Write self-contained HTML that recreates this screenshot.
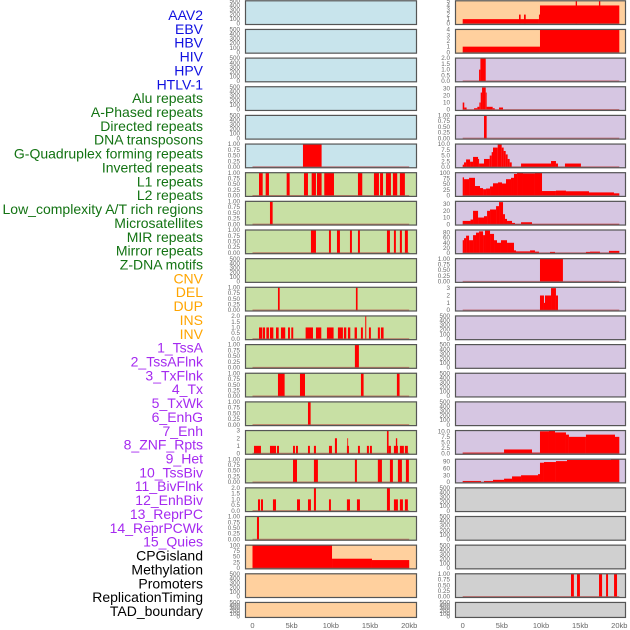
<!DOCTYPE html>
<html><head><meta charset="utf-8"><style>
body{margin:0;background:#fff;width:630px;height:630px;overflow:hidden}
svg{display:block;font-family:"Liberation Sans",sans-serif}
</style></head><body>
<svg id="c" width="630" height="630"></svg>
<script>
// ---- track labels ----
const labelNames=["AAV2","EBV","HBV","HIV","HPV","HTLV-1","Alu repeats","A-Phased repeats","Directed repeats","DNA transposons","G-Quadruplex forming repeats","Inverted repeats","L1 repeats","L2 repeats","Low_complexity A/T rich regions","Microsatellites","MIR repeats","Mirror repeats","Z-DNA motifs","CNV","DEL","DUP","INS","INV","1_TssA","2_TssAFlnk","3_TxFlnk","4_Tx","5_TxWk","6_EnhG","7_Enh","8_ZNF_Rpts","9_Het","10_TssBiv","11_BivFlnk","12_EnhBiv","13_ReprPC","14_ReprPCWk","15_Quies","CPGisland","Methylation","Promoters","ReplicationTiming","TAD_boundary"];
const labelGroups=[6,13,5,15,5];
const groupColors=["#1010e0","#137313","#ffa500","#a52af0","#000"];
const xTicks=[0,5,10,15,20];
const xTickLabels=["0","5kb","10kb","15kb","20kb"];
// ---- left column series [startKb,endKb,value] ----
const L5=[[6.44,8.82,1]];
const L6=[[0.83,1.3,1],[1.68,2.1,1],[4.36,4.74,1],[6.57,7.08,1],[7.55,8.1,1],[8.23,8.82,1],[9.16,10.4,1],[13.46,14.01,1],[15.5,16.14,1],[16.28,16.66,1],[17.03,17.67,1],[17.92,18.47,1],[18.81,19.45,1]];
const L7=[[2.23,2.57,1]];
const L8=[[7.46,8.1,1],[9.76,10.01,1],[10.78,11.16,1],[12.44,12.69,1],[13.46,13.71,1],[17.16,17.54,1],[18.05,18.3,1],[18.81,19.07,1],[19.45,19.83,1]];
const L10=[[3.25,3.47,1],[13.2,13.41,1]];
const L11=[[0.83,1.26,1],[1.34,1.6,1],[1.77,2.1,1],[2.23,2.66,1],[3.0,3.34,1],[3.63,4.18,1],[4.53,4.78,1],[4.95,5.2,1],[6.78,7.72,1],[8.1,8.78,1],[9.5,10.35,1],[10.9,11.54,1],[11.67,11.97,1],[12.18,12.48,1],[13.03,13.33,1],[13.84,14.09,1],[14.39,14.52,2],[14.86,15.11,1],[16.0,16.26,1],[16.39,16.73,1]];
const L12=[[13.07,13.58,1]];
const L13=[[3.25,4.1,1],[6.06,6.7,1],[13.84,14.18,1],[18.43,18.77,1]];
const L14=[[7.08,7.42,1]];
const L15=[[0.19,1.08,1],[2.23,3.0,1],[3.13,3.38,1],[5.17,5.42,1],[5.55,5.8,1],[7.08,7.33,1],[7.84,8.1,1],[9.76,10.14,1],[10.52,10.78,2],[12.05,12.31,1],[12.1,12.2,2],[13.46,13.71,1],[14.6,14.86,1],[14.99,15.24,1],[17.16,17.37,3],[17.37,17.67,1],[18.05,18.56,1],[18.3,18.47,2],[18.81,19.32,1],[19.45,19.83,1]];
const L16=[[5.17,5.68,1],[7.84,8.35,1],[13.07,13.33,1],[16.0,16.52,1],[17.54,17.92,1],[18.56,19.07,1],[19.58,19.96,1]];
const L17=[[0.7,0.96,1],[1.08,1.34,1],[2.61,3.0,1],[5.68,6.06,1],[7.08,7.46,1],[7.84,8.1,2],[9.76,10.01,1],[12.05,12.44,1],[13.33,13.71,1],[17.16,17.54,2],[18.05,18.56,1],[18.81,19.2,1],[19.45,19.83,1]];
const L18=[[0.57,0.83,1]];
const L19=[[0,10.15,100],[10.15,15.25,41],[15.25,20,35]];
// ---- right column series ----
const R0=[[0,9.74,1],[7.19,7.4,2],[7.83,8.05,2],[9.74,9.87,2],[9.87,20,4],[14.43,14.6,5],[17.4,17.57,5]];
const R1=[[0,9.87,1],[9.87,20,4]];
const R2=[[2.09,2.26,1],[2.26,2.94,2]];
const R3=[[0,0.2,10],[0.2,0.5,3],[1.45,1.87,2],[1.87,2.13,4],[2.13,2.3,10],[2.3,2.47,24],[2.47,2.94,31],[2.94,3.06,24],[3.06,3.83,4],[3.83,4.09,2],[4.64,5.15,3]];
const R4=[[2.72,3.06,1]];
const R5=[[0,0.17,1],[0.17,0.43,2],[0.43,0.94,3.3],[0.94,1.32,2.3],[1.32,1.96,4.4],[1.96,2.09,3.5],[2.09,2.72,1.5],[2.72,3.45,3.5],[3.45,3.7,5],[3.7,3.87,6.5],[3.87,4.47,8.5],[4.47,4.98,10],[4.98,5.23,8.5],[5.23,5.49,7],[5.49,5.74,5.5],[5.74,6.0,3.5],[6.0,6.26,2],[7.45,11.28,1.5],[11.28,11.91,2.6],[11.91,12.17,1.5],[13.06,15.1,1.5]];
const R6=[[0,0.17,80],[0.17,0.81,72],[0.81,1.57,78],[1.57,2.21,42],[2.21,2.6,33],[2.6,2.98,28],[2.98,3.49,31],[3.49,3.87,40],[3.87,4.51,54],[4.51,5.02,58],[5.02,5.53,53],[5.53,6.17,72],[6.17,6.55,78],[6.55,6.94,95],[6.94,7.7,100],[7.7,9.23,97],[9.23,10.13,100],[10.13,11.91,20],[11.91,13.19,22],[13.19,16.13,19],[16.13,19.32,14],[19.32,20,10]];
const R7=[[0,1.0,5],[1.0,1.32,7],[1.32,1.96,20],[1.96,2.72,10],[2.72,3.11,12],[3.11,3.49,20],[3.49,4.26,22],[4.26,4.64,27],[4.64,5.15,33],[5.15,5.4,15],[5.4,5.66,8],[5.66,6.3,5],[6.3,6.68,2],[6.68,7.45,0.5],[7.45,8.85,3],[8.85,20,0.5]];
const R8=[[0,0.17,50],[0.17,0.43,58],[0.43,0.81,68],[0.81,1.32,50],[1.32,1.7,70],[1.7,2.09,80],[2.09,2.6,85],[2.6,2.85,70],[2.85,3.49,88],[3.49,4.0,75],[4.0,4.38,50],[4.38,4.89,40],[4.89,5.66,50],[5.66,6.55,40],[6.55,6.81,10],[6.81,8.6,6],[8.6,9.23,10],[9.23,9.74,5],[11.15,11.79,4],[15.74,16.26,4],[16.26,17.53,5],[18.68,20,8]];
const R9=[[9.87,12.8,1]];
const R10=[[9.87,10.38,2],[10.38,10.51,1],[10.51,11.28,2],[11.28,11.91,3],[11.91,12.17,2]];
const R15=[[0,5.28,0.4],[5.28,8.85,1.8],[8.85,9.87,0.4],[9.87,11.02,10],[11.02,11.79,10.2],[11.79,13.19,9.5],[13.19,13.57,8.5],[13.57,15.74,7.5],[15.74,19.45,8.5],[19.45,20,7.5]];
const R16=[[0,2.34,5],[2.72,3.87,5],[3.87,5.28,10],[5.28,6.3,15],[6.3,7.45,25],[7.45,9.62,30],[9.62,9.87,35],[9.87,10.38,85],[10.38,11.91,88],[11.91,13.32,92],[13.32,18.94,97],[18.94,20,100]];
const R20=[[13.83,14.2,1],[14.6,14.97,1],[17.41,17.8,1],[18.31,18.56,1],[19.33,19.71,1]];
// ---- scale definitions [ymax, tick values, tick labels] ----
const T_empty=[500,[0,100,200,300,400,500],["0","100","200","300","400","500"]];
const T_one=[1,[0,0.25,0.5,0.75,1],["0.00","0.25","0.50","0.75","1.00"]];
const T_two=[2,[0,0.5,1,1.5,2],["0.0","0.5","1.0","1.5","2.0"]];
const BLUE="#c8e4ec",GREEN="#c8e0a4",ORANGE="#ffd09e",PURPLE="#d6c6e2",GREY="#d0d0d0";
const leftPanels=[
[BLUE,T_empty,null],[BLUE,T_empty,null],[BLUE,T_empty,null],[BLUE,T_empty,null],[BLUE,T_empty,null],[BLUE,T_one,L5],
[GREEN,T_one,L6],[GREEN,T_one,L7],[GREEN,T_one,L8],[GREEN,T_empty,null],[GREEN,T_one,L10],[GREEN,T_two,L11],
[GREEN,T_one,L12],[GREEN,T_one,L13],[GREEN,T_one,L14],[GREEN,[3,[0,1,2,3],["0","1","2","3"]],L15],[GREEN,T_one,L16],[GREEN,T_two,L17],[GREEN,T_one,L18],
[ORANGE,[100,[0,25,50,75,100],["0","25","50","75","100"]],L19],[ORANGE,T_empty,null],[ORANGE,T_empty,null]];
const rightPanels=[
[ORANGE,[5,[0,1,2,3,4,5],["0","1","2","3","4","5"]],R0],[ORANGE,[4,[0,1,2,3,4],["0","1","2","3","4"]],R1],
[PURPLE,T_two,R2],[PURPLE,[32,[0,10,20,30],["0","10","20","30"]],R3],[PURPLE,T_one,R4],
[PURPLE,[10,[0,2.5,5,7.5,10],["0.0","2.5","5.0","7.5","10.0"]],R5],[PURPLE,[100,[0,25,50,75,100],["0","25","50","75","100"]],R6],
[PURPLE,[34,[0,10,20,30],["0","10","20","30"]],R7],[PURPLE,[90,[0,20,40,60,80],["0","20","40","60","80"]],R8],
[PURPLE,T_one,R9],[PURPLE,[3.1,[0,1,2,3],["0","1","2","3"]],R10],
[PURPLE,T_empty,null],[PURPLE,T_empty,null],[PURPLE,T_empty,null],[PURPLE,T_empty,null],
[PURPLE,[10.3,[0,2.5,5,7.5,10],["0.0","2.5","5.0","7.5","10.0"]],R15],[PURPLE,[100,[0,30,60,90],["0","30","60","90"]],R16],
[GREY,T_empty,null],[GREY,T_empty,null],[GREY,T_empty,null],[GREY,T_one,R20],[GREY,T_empty,null]];

const svg=document.getElementById('c');
const NS="http://www.w3.org/2000/svg";
function mk(tag,attrs,parent){const e=document.createElementNS(NS,tag);for(const k in attrs)e.setAttribute(k,attrs[k]);(parent||svg).appendChild(e);return e;}
// labels
let li=0;
labelGroups.forEach((n,g)=>{for(let k=0;k<n;k++){const t=mk('text',{x:203,y:15+li*13.86,'text-anchor':'end','dominant-baseline':'central','font-size':14,fill:groupColors[g]});


t.textContent=labelNames[li];li++;}});
const cols=[{px0:245,px1:417,x0:252.5,x1:409.2,tx:240,panels:leftPanels},{px0:455,px1:626,x0:462.7,x1:619.3,tx:450,panels:rightPanels}];
cols.forEach((c,ci)=>{
 const xs=kb=>c.x0+(c.x1-c.x0)*kb/20;
 c.panels.forEach((p,i)=>{
  const top=28.65*i+0.3, h=(i===21?16:24.7);
  const g=mk('g',{});
  
  
  mk('rect',{x:c.px0,y:top,width:c.px1-c.px0,height:h,fill:p[0]},g);
  const [ymax,tv,tl]=p[1];
  const yb=top+h-1.3, yt=top+0.6;
  const ys=v=>yb-(yb-yt)*v/ymax;
  tv.forEach((v,k)=>{const t=mk('text',{x:c.tx,y:ys(v)+2,'text-anchor':'end','font-size':6.3,fill:'#6a6a6a'},g);
   
   
   t.textContent=tl[k];});
  if(p[2]){
   p[2].forEach(s=>{const r=mk('rect',{x:xs(s[0]),y:ys(s[2]),width:Math.max(0.8,xs(s[1])-xs(s[0])),height:yb-ys(s[2]),fill:'#ff0000'},g);
    
    });
   mk('line',{x1:xs(0),x2:xs(20),y1:yb,y2:yb,stroke:'#b03a3a','stroke-opacity':0.6,'stroke-width':1.3},g);
  }
  mk('rect',{x:c.px0+0.5,y:top+0.5,width:c.px1-c.px0-1,height:h-1,fill:'none',stroke:'#555','stroke-width':1.2},g);
 });
 xTicks.forEach((v,k)=>{const t=mk('text',{x:xs(v),y:628,'text-anchor':'middle','font-size':7.5,fill:'#666'});
  
  
  t.textContent=xTickLabels[k];});
});
</script>
</body></html>
